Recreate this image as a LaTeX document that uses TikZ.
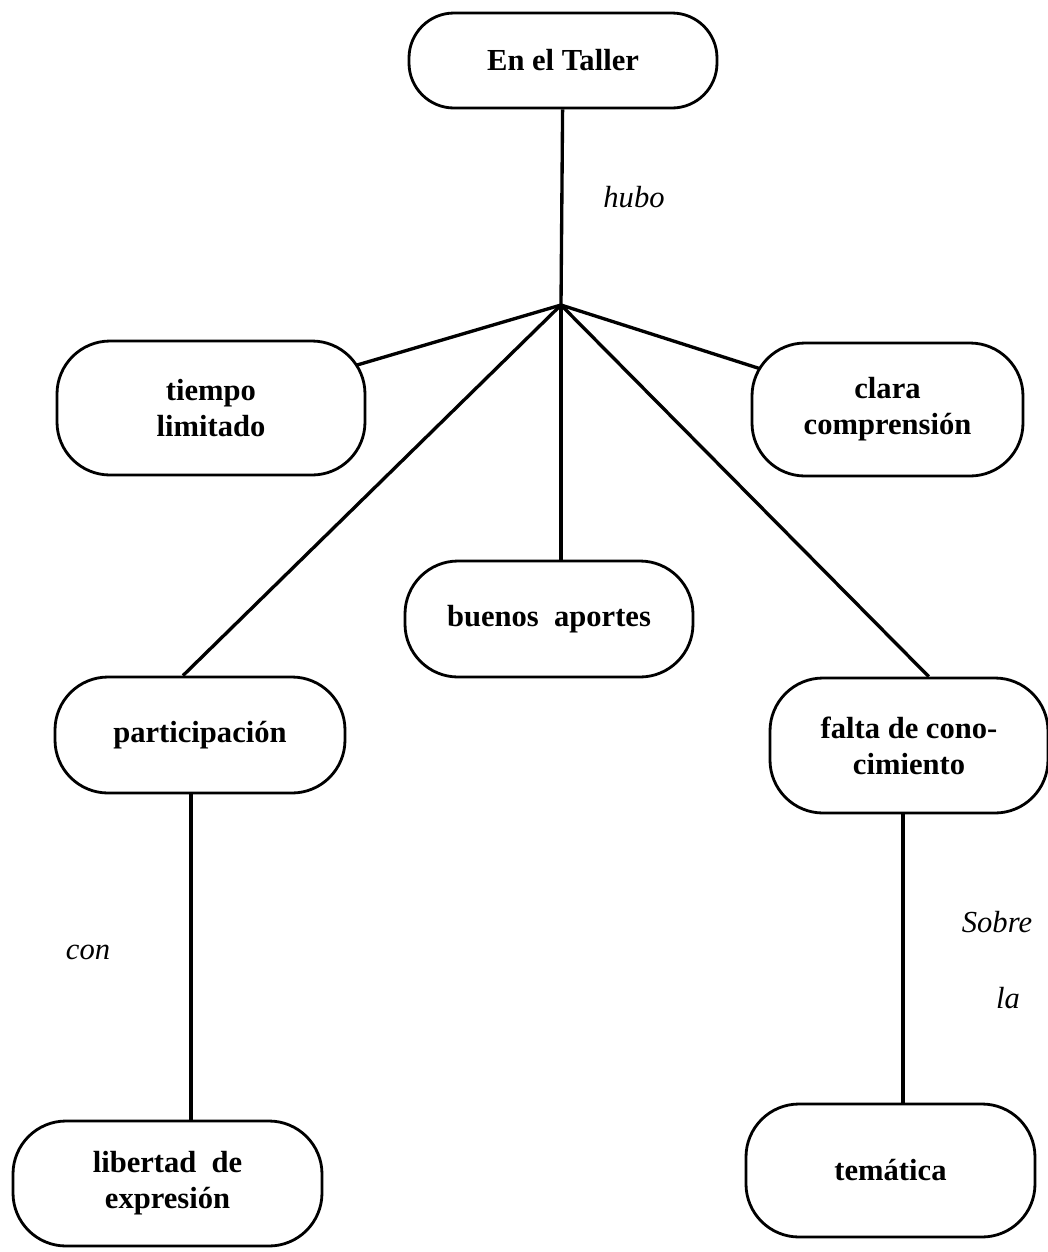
\documentclass[tikz,border=0pt]{standalone}
\usepackage{fontspec}
\setmainfont{Liberation Serif}
\usetikzlibrary{shapes,backgrounds}

\begin{document}
\begin{tikzpicture}
\tikzstyle{cp}=[draw,rectangle,rounded corners=0.53cm,fill=white,line width=0.8pt,align=center,inner sep=0pt,font=\fontsize{8.7}{10.2}\selectfont\bfseries]
\tikzstyle{lk}=[font=\fontsize{8.7}{10.2}\selectfont\itshape]
\useasboundingbox (0,0) rectangle (10.48,-12.52);
\node [cp,minimum width=3.08cm,minimum height=0.95cm,rounded corners=0.45cm] (taller) at (5.63,-0.605) {En el Taller};
\coordinate (hub) at (5.61,-3.05);

\node [cp,minimum width=3.08cm,minimum height=1.34cm] (tiempo) at (2.11,-4.08) {tiempo\\limitado};
\node [cp,minimum width=2.71cm,minimum height=1.33cm] (clara) at (8.875,-4.095) {clara\\comprensión};
\node [cp,minimum width=2.88cm,minimum height=1.16cm] (buenos) at (5.49,-6.19) {buenos\ \ aportes};
\node [cp,minimum width=2.90cm,minimum height=1.16cm] (part) at (2.00,-7.35) {participación};
\node [cp,minimum width=2.78cm,minimum height=1.35cm] (falta) at (9.09,-7.455) {falta de cono-\\cimiento};

\node [cp,minimum width=3.09cm,minimum height=1.25cm] (lib) at (1.675,-11.835) {libertad\ \ de\\expresión};
\node [cp,minimum width=2.89cm,minimum height=1.33cm] (tema) at (8.905,-11.705) {temática};

\node [lk] (hubo) at (6.34,-1.97) {hubo};
\node [lk] (con) at (0.88,-9.52) {con};
\node [lk] (sobre) at (9.97,-9.22) {Sobre};
\node [lk] (la) at (10.08,-9.98) {la};

\begin{scope}[on background layer]
\path[line width=0.95pt]
(taller) edge (hub)
(hub) edge (tiempo.center)
(hub) edge (clara.center)
(hub) edge (hub |- buenos.north)
(hub) edge (part.106)
(hub) edge (falta.74)
([xshift=-0.09cm]part.south) edge ([xshift=-0.09cm]part.south |- lib.north)
([xshift=-0.06cm]falta.south) edge ([xshift=-0.06cm]falta.south |- tema.north);
\end{scope}
\end{tikzpicture}
\end{document}
